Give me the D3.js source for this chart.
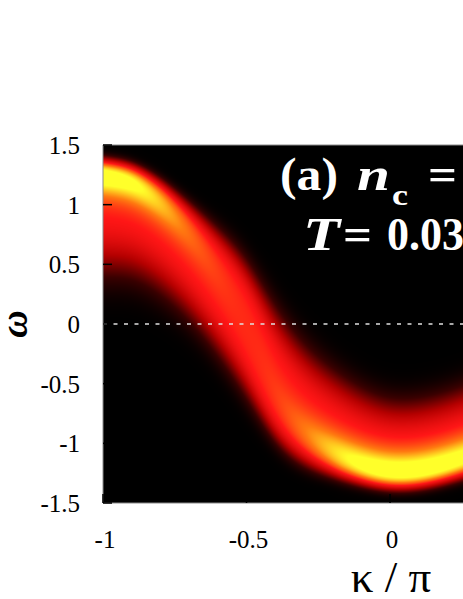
<!DOCTYPE html>
<html lang="en">
<head>
<meta charset="UTF-8">
<title>spectral map</title>
<script src="https://d3js.org/d3.v7.min.js"></script>
<style>
  html, body { margin: 0; padding: 0; background: #fff; overflow: hidden; }
  svg { display: block; }
</style>
</head>
<body>
<div id="chart"></div>
<script>
// peak position of the band (k in units of pi)
const kSamples  = [-1.0, -0.9, -0.8, -0.7, -0.6, -0.5, -0.4, -0.3, -0.2, -0.1, 0.0, 0.1, 0.2, 0.3];
const peakOmega = [1.24, 1.20, 1.02, 0.76, 0.42, 0.02, -0.62, -0.90, -1.06, -1.18, -1.24, -1.23, -1.17, -1.08];
// how far the glow reaches above / below the peak (in omega)
const upperReach = [0.21, 0.22, 0.27, 0.35, 0.50, 0.70, 0.95, 0.90, 0.85, 0.80, 0.75, 0.75, 0.75, 0.75];
const lowerReach = [1.05, 1.00, 0.95, 0.90, 0.85, 0.80, 0.52, 0.40, 0.30, 0.24, 0.22, 0.22, 0.23, 0.25];
// extra bright (yellow) core on top of the red shoulder
const coreHeight = [0.34, 0.32, 0.22, 0.10, 0.03, 0.00, 0.02, 0.12, 0.24, 0.32, 0.34, 0.34, 0.33, 0.31];
const shoulderHeight = 0.72;

const xTicks = [-1, -0.5, 0];
const yTicks = [-1.5, -1, -0.5, 0, 0.5, 1, 1.5];

const W = 463, H = 599;
const plot = {left: 103, top: 145, bottom: 503};
const serif = "'Liberation Serif', 'Times New Roman', Times, 'DejaVu Serif', serif";

const x = d3.scaleLinear().domain([-1, 0]).range([plot.left, 390]);
const y = d3.scaleLinear().domain([-1.5, 1.5]).range([plot.bottom, plot.top]);

const color = d3.scaleLinear()
    .domain([0, 0.2, 0.45, 0.7, 0.85, 1.0])
    .range(["#000000", "#3a0000", "#b40000", "#ff1616", "#ff7a10", "#ffff2a"])
    .clamp(true);

// smooth curves through the sampled values
function along(values) {
  const f = d3.interpolateBasis(values);
  const t = d3.scaleLinear().domain([kSamples[0], kSamples[kSamples.length - 1]]).range([0, 1]).clamp(true);
  return k => f(t(k));
}
const eps = along(peakOmega), upR = along(upperReach), loR = along(lowerReach), core = along(coreHeight);

function intensity(k, w) {
  const d = w - eps(k);
  const reach = d > 0 ? upR(k) : loR(k);
  const u = Math.abs(d) / reach / 0.76;
  const shoulder = shoulderHeight * Math.exp(-u * u * u * u);
  const s = Math.min(0.17, reach * 0.6);
  const c = core(k) * Math.exp(-(d / s) * (d / s));
  return shoulder + c;
}

const svg = d3.select("#chart").append("svg")
    .attr("width", W).attr("height", H)
    .attr("font-family", serif);

// heat map rendered pixel by pixel through the scales
const pw = W - plot.left, ph = plot.bottom - plot.top;
const canvas = document.createElement("canvas");
canvas.width = pw; canvas.height = ph;
const ctx = canvas.getContext("2d");
const img = ctx.createImageData(pw, ph);
for (let j = 0; j < ph; j++) {
  const w = y.invert(plot.top + j + 0.5);
  for (let i = 0; i < pw; i++) {
    const k = x.invert(plot.left + i + 0.5);
    const c = d3.rgb(color(intensity(k, w)));
    const p = (j * pw + i) * 4;
    img.data[p] = c.r; img.data[p + 1] = c.g; img.data[p + 2] = c.b; img.data[p + 3] = 255;
  }
}
ctx.putImageData(img, 0, 0);
svg.append("image")
    .attr("x", plot.left).attr("y", plot.top)
    .attr("width", pw).attr("height", ph)
    .attr("href", canvas.toDataURL());

// zero line
svg.append("line")
    .attr("x1", plot.left).attr("x2", W)
    .attr("y1", y(0)).attr("y2", y(0))
    .attr("stroke", "#e0e0e0").attr("stroke-width", 1.5)
    .attr("stroke-dasharray", "4,6.5");

// frame
svg.append("path")
    .attr("d", `M${W},${plot.top}H${plot.left}V${plot.bottom}H${W}`)
    .attr("fill", "none").attr("stroke", "#8a8a8a").attr("stroke-width", 1);

// ticks (inside, black) and labels
svg.selectAll(".ytick").data(yTicks).enter().append("line")
    .attr("x1", plot.left).attr("x2", plot.left + 9)
    .attr("y1", d => y(d)).attr("y2", d => y(d))
    .attr("stroke", "#000").attr("stroke-width", 1.5);
svg.selectAll(".xtick").data(xTicks).enter().append("line")
    .attr("x1", d => x(d)).attr("x2", d => x(d))
    .attr("y1", plot.bottom).attr("y2", plot.bottom - 9)
    .attr("stroke", "#000").attr("stroke-width", 1.5);

svg.selectAll(".ylab").data(yTicks).enter().append("text")
    .attr("x", 80).attr("y", d => y(d) + 9)
    .attr("text-anchor", "end").attr("font-size", 25)
    .text(d => d);
svg.selectAll(".xlab").data(xTicks).enter().append("text")
    .attr("x", d => x(d) + 2).attr("y", 548)
    .attr("text-anchor", "middle").attr("font-size", 25)
    .text(d => d);

// axis titles
svg.append("text")
    .attr("transform", `translate(${27},${y(0)}) rotate(-90)`)
    .attr("text-anchor", "middle")
    .attr("font-size", 38).attr("font-weight", "bold").attr("font-style", "italic")
    .text("ω");
svg.append("text")
    .attr("x", 391).attr("y", 592)
    .attr("text-anchor", "middle").attr("font-size", 45)
    .text("κ / π");

// panel label, pieces placed to match the original spacing
function piece(txt, px, py, len, opts = {}) {
  return svg.append("text")
      .attr("x", px).attr("y", py)
      .attr("fill", "#fff").attr("font-weight", "bold")
      .attr("font-size", opts.size || 46)
      .attr("font-style", opts.italic ? "italic" : "normal")
      .attr("textLength", len).attr("lengthAdjust", "spacingAndGlyphs")
      .text(txt);
}
piece("(a)", 280, 190, 58);
piece("n", 357, 190, 33, {italic: true});
piece("c", 392, 205, 16, {size: 30});
piece("=", 428, 190, 29);

piece("T", 303, 250, 37, {italic: true});
piece("=", 343, 250, 29);
piece("0.03", 387, 250, 77);
</script>
</body>
</html>
